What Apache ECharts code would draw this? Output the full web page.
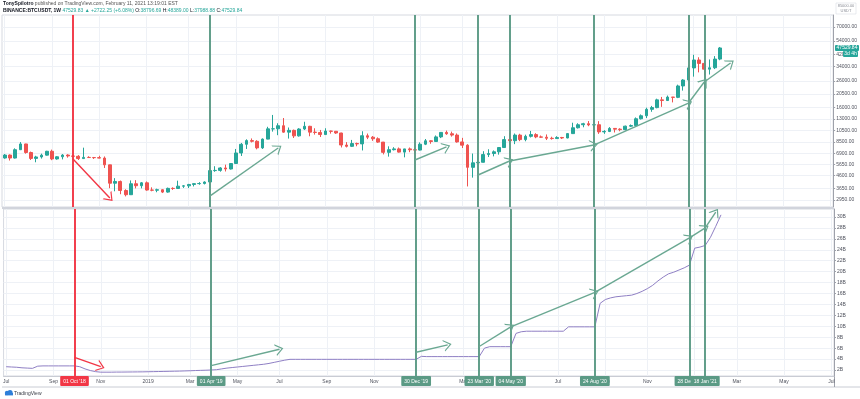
<!DOCTYPE html>
<html><head><meta charset="utf-8">
<script src="https://cdn.jsdelivr.net/npm/echarts@6/dist/echarts.min.js"></script>
<style>html,body{margin:0;padding:0;background:#fff}#c{width:860px;height:399px}</style>
</head><body><div id="c"></div>
<script>
// ---------------- DATA ----------------
const firstWeek = '2018-07-02';      // first weekly bar (Monday)
const weekCount = 158;               // bars + empty future space on the time scale

// weekly BTCUSDT candles: [open, close, low, high]
const weeklyOHLC = [
  [6357,6712,6280,6840],[6712,6353,6070,6785],[6353,7399,6300,7590],[7399,8218,7375,8507],[8218,7030,6880,8250],
  [7030,6310,6130,7150],[6310,6480,5880,6620],[6480,6700,6290,6880],[6700,7190,6650,7250],[7190,6250,6110,7410],
  [6250,6500,6170,6580],[6500,6710,6200,6830],[6710,6600,6400,6810],[6600,6560,6460,6680],[6560,6290,6130,6700],
  [6290,6430,6280,7680],[6430,6410,6370,6560],[6410,6400,6250,6480],[6400,6350,6320,6620],[6350,5610,5300,6540],
  [5610,4010,3660,5620],[4010,4140,3460,4400],[4140,3510,3280,4210],[3510,3250,3150,3590],[3250,3970,3240,4220],
  [3970,3830,3650,4240],[3830,4040,3650,4100],[4040,3540,3500,4140],[3540,3530,3460,3720],[3530,3560,3400,3630],
  [3560,3410,3350,3590],[3410,3650,3370,3700],[3650,3640,3550,3720],[3640,3800,3610,4200],[3800,3820,3680,3880],
  [3820,3920,3670,3960],[3920,3980,3780,4010],[3980,3990,3900,4090],[3990,4100,3920,4150],[4100,5050,4080,5350],
  [5050,5070,4940,5470],[5070,5300,4950,5380],[5300,5200,4970,5630],[5200,5750,5150,5800],[5750,6970,5700,7500],
  [6970,8170,6600,8370],[8170,8740,7500,8950],[8740,8630,8450,9090],[8630,7650,7450,8800],[7650,8980,7500,9090],
  [8980,10830,8950,11250],[10830,10850,10300,13970],[10850,11470,9650,12000],[11470,10200,10100,13200],[10200,10540,9070,11100],
  [10540,9530,9170,10690],[9530,10800,9400,10960],[10800,11350,10600,12330],[11350,10200,9460,11450],[10200,10140,9750,10950],
  [10140,9760,9330,10620],[9760,10400,9750,10950],[10400,10360,9930,10480],[10360,10040,9880,10410],[10040,8060,7710,10080],
  [8060,7870,7710,8500],[7870,8280,7770,8850],[8280,8230,7880,8420],[8230,9550,7300,10370],[9550,9300,8980,9940],
  [9300,9040,8700,9500],[9040,8500,8380,9270],[8500,7050,6790,8530],[7050,7400,6520,7870],[7400,7510,7300,7750],
  [7510,7080,7020,7700],[7080,7510,6435,7520],[7510,7390,7070,7700],[7390,7350,6870,7630],[7350,8180,7300,8460],
  [8180,8710,8050,9000],[8710,8600,8250,8800],[8600,9350,8560,9600],[9350,10150,9150,10200],[10150,9900,9720,10500],
  [9900,9670,9400,10300],[9670,8530,8420,9960],[8530,8040,7630,9190],[8040,5360,3780,8180],[5360,5820,4440,6900],
  [5820,5880,5670,6980],[5880,6770,5860,7200],[6770,6900,6470,7460],[6900,7120,6550,7300],[7120,7700,6760,7770],
  [7700,8900,7640,9470],[8900,8720,8110,10070],[8720,9670,8190,9950],[9670,8900,8650,9900],[8900,9450,8630,9740],
  [9450,9750,9250,10430],[9750,9350,9130,10000],[9350,9300,9200,9590],[9300,9120,8830,9780],[9120,9070,8900,9380],
  [9070,9250,9000,9470],[9250,9170,9000,9350],[9170,9930,9120,10000],[9930,11050,9880,12120],[11050,11680,10900,12000],
  [11680,11900,11150,12100],[11900,11650,11370,12490],[11650,11680,11110,11800],[11680,10250,9880,12470],[10250,10330,9880,10580],
  [10330,10920,10210,11180],[10920,10770,10140,11000],[10770,10670,10370,10950],[10670,11380,10520,11490],[11380,11500,11200,11740],
  [11500,13030,11340,13350],[13030,13760,12850,14100],[13760,15480,13200,15960],[15480,15970,14800,16480],[15970,18400,15770,18800],
  [18400,18180,16200,19420],[18180,19360,18110,19920],[19360,19270,17570,19400],[19270,23730,19000,24300],[23730,26440,21800,26870],
  [26440,33000,25920,34780],[33000,38150,28130,41950],[38150,35830,30420,40100],[35830,32260,28850,37850],[32260,33090,29240,38530],
  [33090,38800,32300,40950],[38800,47530,37990,48390]
];

// lower pane indicator (billions)
const indicatorValues = [
  2.6,2.55,2.5,2.4,2.35,2.3,
  2.7,2.75,2.75,2.75,2.75,2.75,2.75,2.75,
  2.6,2.2,1.9,1.7,1.6,
  1.6,1.6,1.62,1.62,1.63,1.64,1.65,1.66,1.68,1.7,1.72,1.74,1.76,1.78,1.8,1.83,1.86,1.9,1.93,1.96,
  2.0,
  2.05,2.2,2.35,2.45,2.55,2.65,2.75,2.85,2.95,3.05,3.2,3.4,3.6,3.8,3.95,
  3.95,3.95,3.95,3.95,3.95,3.95,3.95,3.95,3.95,3.95,3.95,3.95,3.95,3.95,3.95,3.95,3.95,3.95,3.95,3.95,3.95,3.95,3.95,3.95,
  4.5,4.45,4.45,4.45,4.45,4.45,4.45,4.45,4.45,4.45,4.45,4.45,
  6.0,
  6.27,6.27,6.27,6.27,6.27,
  8.7,9.0,
  9.1,9.1,9.1,9.1,9.1,9.1,9.1,9.1,
  9.9,9.9,9.9,9.9,9.9,9.9,
  14.2,14.9,15.2,15.4,15.5,15.6,15.7,16.0,16.4,16.9,17.5,18.3,19.0,19.6,19.9,20.3,20.7,21.2,24.3,24.5,24.8,26.3,28.3,30.4
];

const priceTicks = [2950,3650,4600,5650,6900,8500,10500,13000,16000,20500,26000,34000,42000,54000,70000];
const indicatorTicks = [2,4,6,8,10,12,14,16,18,20,22,24,26,28,30];

const markerDates = ['2018-10-01','2019-04-01','2019-12-30','2020-03-23','2020-05-04','2020-08-24','2020-12-28','2021-01-18'];
const bearishMarkers = ['2018-10-01'];

// arrows: [fromDate, fromValue, toDate, toValue]
const priceArrows = [
  ['2018-10-01',6240,'2018-11-19',3060],
  ['2019-04-01',3170,'2019-07-01',7630],
  ['2019-12-30',6130,'2020-02-10',7780],
  ['2020-03-23',4660,'2020-05-04',6020],
  ['2020-05-04',6020,'2020-08-24',8060],
  ['2020-08-24',8060,'2020-12-28',17370],
  ['2020-12-28',17370,'2021-01-18',25500],
  ['2021-01-18',25500,'2021-02-22',36140]
];
const indicatorArrows = [
  ['2018-10-01',4.3,'2018-11-05',2.6],
  ['2019-04-01',2.8,'2019-07-01',5.8],
  ['2019-12-30',5.25,'2020-02-10',6.6],
  ['2020-03-23',6.3,'2020-05-04',9.9],
  ['2020-05-04',9.9,'2020-08-24',16.2],
  ['2020-08-24',16.2,'2020-12-28',26.2],
  ['2020-12-28',26.2,'2021-01-18',28.0],
  ['2021-01-18',28.0,'2021-02-01',30.9]
];

// ---------------- BUILD ----------------
const MONTHS = ['Jan','Feb','Mar','Apr','May','Jun','Jul','Aug','Sep','Oct','Nov','Dec'];
const weeks = [];
(function(){ const t0 = Date.parse(firstWeek + 'T00:00:00Z'); for (let i = 0; i < weekCount; i++) weeks.push(new Date(t0 + i*7*86400000).toISOString().slice(0,10)); })();
const dt = s => new Date(s + 'T00:00:00Z');
const isLabelWeek = idx => { const d = dt(weeks[idx]); return d.getUTCDate() <= 7 && d.getUTCMonth() % 2 === 0; };
const axisLabelText = s => { const d = dt(s); return d.getUTCMonth() === 0 ? String(d.getUTCFullYear()) : MONTHS[d.getUTCMonth()]; };
const fmtDate = s => { const d = dt(s); return String(d.getUTCDate()).padStart(2,'0') + ' ' + MONTHS[d.getUTCMonth()] + " '" + String(d.getUTCFullYear()).slice(2); };

const FONT = 'Liberation Sans, DejaVu Sans, sans-serif';
const UP = '#26a69a', DOWN = '#ef5350', RED = '#f23645', GREEN_LINE = '#5b9a85', ARROW_GREEN = '#6aa892';
const TXT = '#50535e', GRIDC = '#eef1f6';
const CHEVRON = 'path://M0,10 L5,0 L10,10 L8.8,10 L5,2.4 L1.2,10 Z';

function vLines(withLabel) {
  return markerDates.map(d => {
    const c = bearishMarkers.includes(d) ? RED : GREEN_LINE;
    return {
      xAxis: weeks.indexOf(d),
      lineStyle: { color: c, width: 1.9, type: 'solid' },
      label: withLabel ? {
        show: true, position: 'start', distance: 0, formatter: fmtDate(d),
        color: '#fff', backgroundColor: c, fontSize: 5, fontFamily: FONT,
        padding: [3, 3, 2, 3], borderRadius: 1
      } : { show: false }
    };
  });
}
function arrows(list) {
  return list.map(([d0, v0, d1, v1]) => {
    const c = v1 < v0 ? RED : ARROW_GREEN;
    const ls = { color: c, width: 1.4, type: 'solid' };
    return [
      { coord: [weeks.indexOf(d0), v0], symbol: 'none', lineStyle: ls, label: { show: false } },
      { coord: [weeks.indexOf(d1), v1], symbol: CHEVRON, symbolSize: [12, 8], lineStyle: ls, label: { show: false } }
    ];
  });
}

const xBase = {
  type: 'category', data: weeks, boundaryGap: true,
  axisTick: { show: false },
  splitLine: { show: true, interval: (i) => isLabelWeek(i), alignWithLabel: true, lineStyle: { color: GRIDC, width: 1 } }
};

const option = {
  backgroundColor: '#ffffff',
  animation: false,
  grid: [
    { left: 2, right: 26, top: 15, height: 192, show: true, borderColor: '#d6d9e0', borderWidth: 1 },
    { left: 2, right: 26, top: 209, height: 167, show: true, borderColor: '#d6d9e0', borderWidth: 1 }
  ],
  xAxis: [
    Object.assign({}, xBase, { gridIndex: 0, axisLine: { show: false }, axisLabel: { show: false } }),
    Object.assign({}, xBase, {
      gridIndex: 1, axisLine: { show: true, lineStyle: { color: '#c9ccd4' } },
      axisLabel: { show: true, interval: (i) => isLabelWeek(i), formatter: axisLabelText, fontSize: 5, color: TXT, fontFamily: FONT, margin: 3 }
    })
  ],
  yAxis: [
    {
      type: 'log', logBase: 10, gridIndex: 0, position: 'right', min: 2596, max: 86830,
      axisLine: { show: true, lineStyle: { color: '#9ea1aa' } },
      axisTick: { show: true, length: 2, customValues: priceTicks, lineStyle: { color: '#9ea1aa' } },
      axisLabel: { show: true, customValues: priceTicks, formatter: v => Number(v).toFixed(2), fontSize: 5, color: TXT, fontFamily: FONT, margin: 3 },
      splitLine: { show: true, lineStyle: { color: GRIDC } }
    },
    {
      type: 'value', gridIndex: 1, position: 'right', min: 0.9, max: 31.47,
      axisLine: { show: true, lineStyle: { color: '#9ea1aa' } },
      axisTick: { show: true, length: 2, customValues: indicatorTicks, lineStyle: { color: '#9ea1aa' } },
      axisLabel: { show: true, customValues: indicatorTicks, formatter: v => v + 'B', fontSize: 5, color: TXT, fontFamily: FONT, margin: 3 },
      splitLine: { show: true, lineStyle: { color: GRIDC } }
    }
  ],
  series: [
    {
      type: 'candlestick', xAxisIndex: 0, yAxisIndex: 0, data: weeklyOHLC, barWidth: '62%',
      itemStyle: { color: UP, color0: DOWN, borderColor: UP, borderColor0: DOWN, borderWidth: 1 },
      markLine: { silent: true, symbol: ['none', 'none'], animation: false, label: { show: false },
        data: vLines(false).concat(arrows(priceArrows)) }
    },
    {
      type: 'line', xAxisIndex: 1, yAxisIndex: 1, data: indicatorValues, showSymbol: false, symbol: 'none',
      lineStyle: { color: '#8f7fc4', width: 1 },
      markLine: { silent: true, symbol: ['none', 'none'], animation: false,
        data: vLines(true).concat(arrows(indicatorArrows)) }
    }
  ]
};

const chart = echarts.init(document.getElementById('c'), null, { renderer: 'canvas' });
chart.setOption(option);

// header, pane separator, last-price tag, logo
const lastIdx = weeklyOHLC.length - 1;
const lastClose = weeklyOHLC[lastIdx][1];
const lastY = chart.convertToPixel({ xAxisIndex: 0, yAxisIndex: 0 }, [lastIdx, lastClose])[1];
chart.setOption({
  graphic: [
    { type: 'text', left: 3, top: 1, style: { text: '{b|TonySpilotro} published on TradingView.com, February 11, 2021 13:19:01 EST',
      fontSize: 5, fill: '#555', fontFamily: FONT, rich: { b: { fontWeight: 'bold', fill: '#131722', fontSize: 5, fontFamily: FONT } } } },
    { type: 'text', left: 3, top: 8, style: {
      text: '{b|BINANCE:BTCUSDT, 1W} {g|47529.83 ▲ +2722.25 (+6.08%)} O:{g|38796.69} H:{g|48389.00} L:{g|37988.88} C:{g|47529.84}',
      fontSize: 5, fill: '#131722', fontFamily: FONT,
      rich: { b: { fontWeight: 'bold', fill: '#131722', fontSize: 5, fontFamily: FONT }, g: { fill: UP, fontSize: 5, fontFamily: FONT } } } },
    { type: 'rect', shape: { x: 2, y: 207, width: 832, height: 2 }, style: { fill: '#d1d4dc' }, z: 10 },
    { type: 'line', shape: { x1: 2, y1: 387, x2: 860, y2: 387 }, style: { stroke: '#c9ccd4', lineWidth: 1 } },
    { type: 'line', shape: { x1: 834.5, y1: 376, x2: 834.5, y2: 387 }, style: { stroke: '#9ea1aa', lineWidth: 1 } },
    { type: 'rect', shape: { x: 836, y: 3, width: 20, height: 11 }, style: { fill: '#fff', stroke: '#d1d4dc', lineWidth: 0.5 } },
    { type: 'text', x: 846, y: 4, style: { text: '85000.00\nUSDT', fontSize: 4, fill: '#8a8d96', align: 'center', fontFamily: FONT, lineHeight: 4.6 } },
    { type: 'rect', shape: { x: 835, y: lastY - 3, width: 24, height: 6, r: 1 }, style: { fill: UP }, z: 20 },
    { type: 'text', x: 847, y: lastY, style: { text: '47529.84', fontSize: 5, fill: '#fff', align: 'center', verticalAlign: 'middle', fontFamily: FONT }, z: 21 },
    { type: 'rect', shape: { x: 843, y: lastY + 3, width: 15, height: 6, r: 1 }, style: { fill: UP }, z: 20 },
    { type: 'text', x: 850.5, y: lastY + 6, style: { text: '3d 4h', fontSize: 5, fill: '#fff', align: 'center', verticalAlign: 'middle', fontFamily: FONT }, z: 21 },
    { type: 'circle', shape: { cx: 7, cy: 393, r: 2.2 }, style: { fill: '#2e7fd9' } },
    { type: 'circle', shape: { cx: 10, cy: 392.5, r: 2.6 }, style: { fill: '#2e7fd9' } },
    { type: 'rect', shape: { x: 5, y: 393, width: 8, height: 2.4 }, style: { fill: '#2e7fd9' } },
    { type: 'text', x: 14, y: 391, style: { text: 'TradingView', fontSize: 5, fill: '#3b3e48', fontFamily: FONT } }
  ]
});
</script></body></html>
